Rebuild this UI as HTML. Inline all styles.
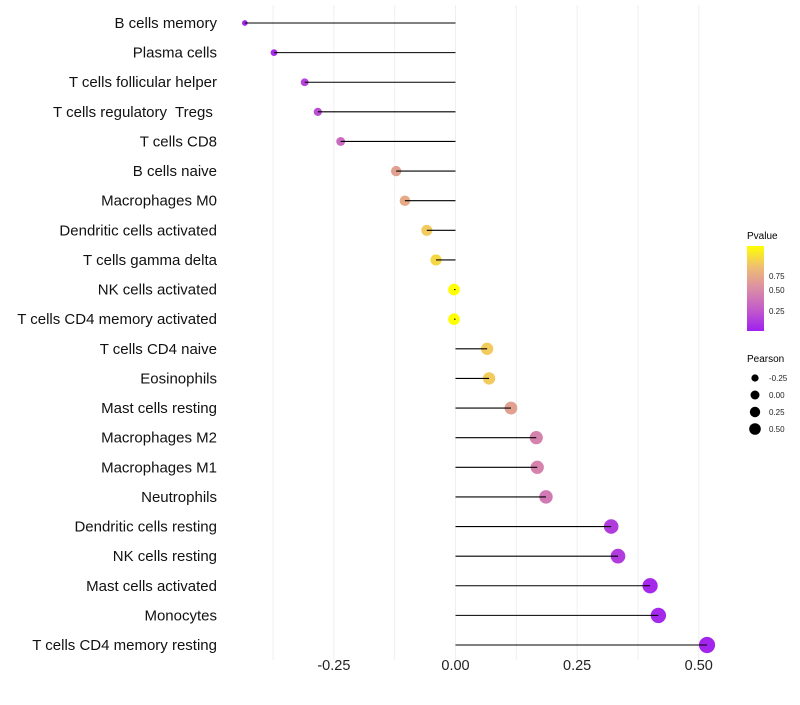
<!DOCTYPE html>
<html><head><meta charset="utf-8"><style>
body{margin:0;background:#fff;font-family:"Liberation Sans",sans-serif;}
text{white-space:pre;}
</style></head><body>
<svg id="chart" width="800" height="700" xmlns="http://www.w3.org/2000/svg">
<defs>
<linearGradient id="pg" x1="0" y1="1" x2="0" y2="0">
<stop offset="0" stop-color="#A020F0"/><stop offset="0.25" stop-color="#C25BCB"/>
<stop offset="0.5" stop-color="#DA8DA5"/><stop offset="0.75" stop-color="#EFBD74"/>
<stop offset="1" stop-color="#FFFF00"/>
</linearGradient>
</defs>
<g id="grid"></g><g id="marks"></g><g id="labels"></g>
<g>
<text x="747" y="239" font-size="10" fill="#000">Pvalue</text>
<rect x="747" y="246" width="17" height="85" fill="url(#pg)"/>
<g font-size="8" fill="#222">
<text x="769" y="279">0.75</text><text x="769" y="293">0.50</text><text x="769" y="314">0.25</text>
</g>
<text x="747" y="362" font-size="10" fill="#000">Pearson</text>
<g id="sizeleg"></g>
</g>
</svg>
<script>
const cells=["B cells memory","Plasma cells","T cells follicular helper","T cells regulatory  Tregs ","T cells CD8","B cells naive","Macrophages M0","Dendritic cells activated","T cells gamma delta","NK cells activated","T cells CD4 memory activated","T cells CD4 naive","Eosinophils","Mast cells resting","Macrophages M2","Macrophages M1","Neutrophils","Dendritic cells resting","NK cells resting","Mast cells activated","Monocytes","T cells CD4 memory resting"];
const pearson=[-0.433,-0.373,-0.31,-0.283,-0.236,-0.122,-0.104,-0.059,-0.040,-0.003,-0.003,0.065,0.069,0.114,0.166,0.168,0.186,0.32,0.334,0.40,0.417,0.517];
const pvalue=[0.02,0.05,0.15,0.2,0.33,0.6,0.65,0.8,0.85,1.0,1.0,0.8,0.8,0.6,0.45,0.45,0.4,0.12,0.12,0.04,0.04,0.02];
const xTicks=[-0.25,0,0.25,0.5];
const xTickLabels=["-0.25","0.00","0.25","0.50"];
const sizeLegend=[-0.25,0,0.25,0.5];
const sizeLegendLabels=["-0.25","0.00","0.25","0.50"];
const NS="http://www.w3.org/2000/svg";
const X=v=>455.5+v*486.5;
const Y=i=>23+i*(645-23)/21;
const R=v=>Math.max(2,Math.sqrt(Math.max(0,34+60*v)));
const stops=[[160,32,240],[194,91,203],[218,141,165],[239,189,116],[255,255,0]];
function col(p){p=Math.max(0,Math.min(1,p));const t=p*4,i=Math.min(3,Math.floor(t)),f=t-i;const a=stops[i],b=stops[i+1];return `rgb(${a.map((c,k)=>Math.round(c+(b[k]-c)*f)).join(",")})`;}
function mk(tag,attrs,parent){const e=document.createElementNS(NS,tag);for(const k in attrs)e.setAttribute(k,attrs[k]);parent.appendChild(e);return e;}
const grid=document.getElementById('grid'),marks=document.getElementById('marks'),labels=document.getElementById('labels');
for(let v=-0.375;v<=0.501;v+=0.125){const l=mk('line',{x1:X(v),x2:X(v),y1:5,y2:660,stroke:'#efefef','stroke-width':1},grid);

}
xTicks.forEach((v,i)=>{const t=mk('text',{x:X(v),y:670,'text-anchor':'middle','font-size':14.5,fill:'#222'},labels);t.textContent=xTickLabels[i];

});
cells.forEach((c,i)=>{
const t=mk('text',{x:217,y:Y(i)+5,'text-anchor':'end','font-size':15,fill:'#111'},labels);t.textContent=c;


const p=mk('circle',{cx:X(pearson[i]),cy:Y(i),r:R(pearson[i]),fill:col(pvalue[i])},marks);


const s=mk('line',{x1:X(0),x2:X(pearson[i]),y1:Y(i),y2:Y(i),stroke:'#000','stroke-width':1.1},marks);


});
const sl=document.getElementById('sizeleg');
sizeLegend.forEach((v,i)=>{const y=378+i*17;
const c=mk('circle',{cx:755,cy:y,r:R(v)*0.6+1,fill:'#000'},sl);


const t=mk('text',{x:769,y:y+3,'font-size':8,fill:'#222'},sl);t.textContent=sizeLegendLabels[i];

});
</script>
</body></html>
